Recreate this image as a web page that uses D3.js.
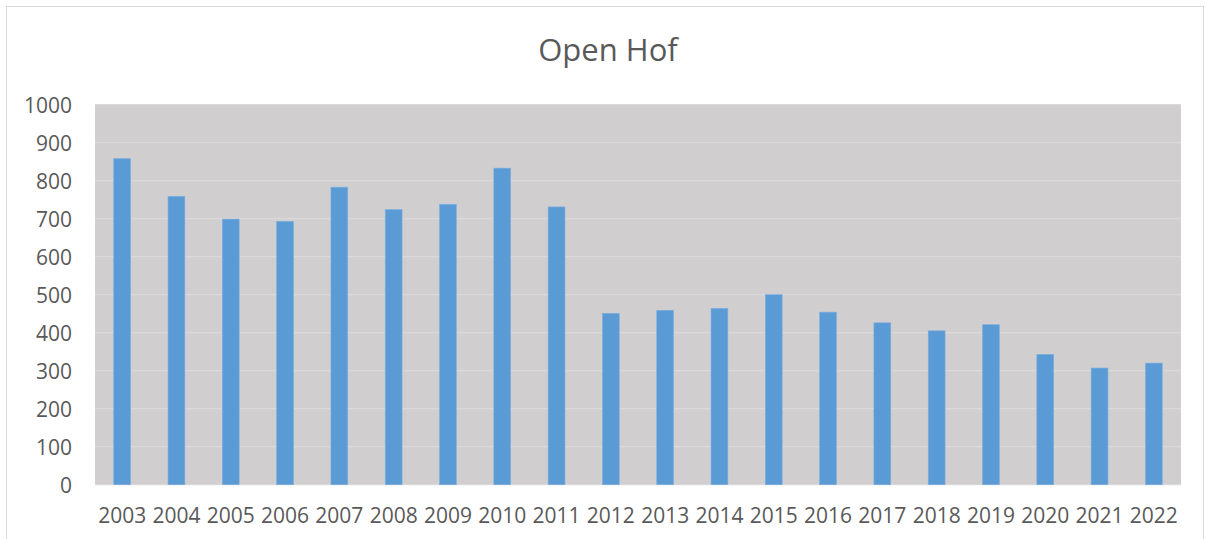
<!DOCTYPE html>
<html lang="en">
<head>
<meta charset="UTF-8">
<script src="https://cdnjs.cloudflare.com/ajax/libs/d3/7.8.5/d3.min.js"></script>
<style>
  body { margin: 0; background: #fff; }
  svg { display: block; }
  .tick text { font-family: "Open Sans", sans-serif; font-size: 21px; fill: #595959; }
</style>
</head>
<body>
<script>
var years = ["2003","2004","2005","2006","2007","2008","2009","2010","2011","2012",
             "2013","2014","2015","2016","2017","2018","2019","2020","2021","2022"];
var visitors = [858, 759, 699, 693, 783, 724, 738, 833, 731, 451,
                459, 464, 500, 454, 426, 405, 421, 343, 307, 320];
var yTicks = [0, 100, 200, 300, 400, 500, 600, 700, 800, 900, 1000];

var W = 1206, H = 539;
var margin = {top: 104.7, right: 25, bottom: 54.3, left: 95};
var width = W - margin.left - margin.right,
    height = H - margin.top - margin.bottom;

var svg = d3.select("body").append("svg")
  .attr("width", W)
  .attr("height", H);

// chart frame
svg.append("rect")
  .attr("x", 6.5).attr("y", 6.5)
  .attr("width", W - 9).attr("height", H)
  .attr("fill", "none")
  .attr("stroke", "#d9d9d9");

svg.append("text")
  .attr("x", 608)
  .attr("y", 61)
  .attr("text-anchor", "middle")
  .style("font-family", "'Open Sans', sans-serif")
  .style("font-size", "31px")
  .style("fill", "#595959")
  .text("Open Hof");

var g = svg.append("g")
  .attr("transform", "translate(" + margin.left + "," + margin.top + ")");

var x = d3.scaleBand().domain(years).range([0, width]).paddingInner(0.69).paddingOuter(0.345);
var y = d3.scaleLinear().domain([0, 1000]).range([height, 0]);

g.append("rect")
  .attr("width", width)
  .attr("height", height)
  .attr("fill", "#d0cece");

g.selectAll(".grid")
  .data(yTicks)
  .enter().append("line")
  .attr("x1", 0).attr("x2", width)
  .attr("y1", function(d) { return y(d); })
  .attr("y2", function(d) { return y(d); })
  .attr("stroke", "#dadada")
  .attr("stroke-width", 1.3);

g.selectAll(".bar")
  .data(visitors)
  .enter().append("rect")
  .attr("class", "bar")
  .attr("x", function(d, i) { return x(years[i]); })
  .attr("y", function(d) { return y(d); })
  .attr("width", x.bandwidth())
  .attr("height", function(d) { return height - y(d); })
  .attr("fill", "#5b9bd5")
  .attr("stroke", "#7eaee0")
  .attr("stroke-width", 0.6);

var yAxis = g.append("g")
  .call(d3.axisLeft(y).tickValues(yTicks).tickFormat(d3.format("d")).tickSize(0).tickPadding(23));
yAxis.select(".domain").remove();
yAxis.selectAll("text").attr("dy", "0.35em");

var xAxis = g.append("g")
  .attr("transform", "translate(0," + height + ")")
  .call(d3.axisBottom(x).tickSize(0).tickPadding(23));
xAxis.select(".domain").remove();
</script>
</body>
</html>
